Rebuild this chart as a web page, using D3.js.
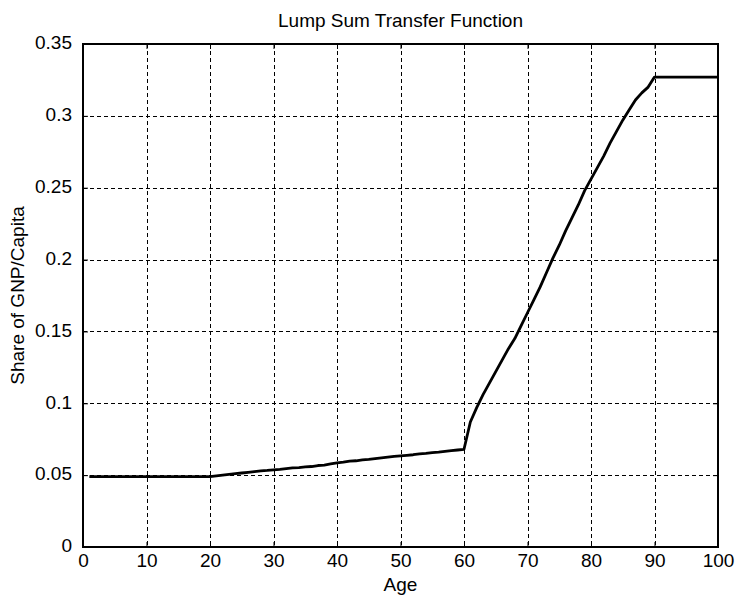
<!DOCTYPE html>
<html>
<head>
<meta charset="utf-8">
<script src="https://cdn.jsdelivr.net/npm/d3@7"></script>
<style>
  html, body { margin: 0; padding: 0; background: #fff; }
  svg { display: block; font-family: "Liberation Sans", Arial, Helvetica, sans-serif; }
</style>
</head>
<body>
<svg id="chart" width="736" height="597"></svg>
<script>
// Lump-sum transfer by age, as a share of GNP per capita
const ages = d3.range(1, 101);
const shareYoung = [ // ages 1-20
  0.049, 0.049, 0.049, 0.049, 0.049, 0.049, 0.049, 0.049, 0.049, 0.049,
  0.049, 0.049, 0.049, 0.049, 0.049, 0.049, 0.049, 0.049, 0.049, 0.049
];
const shareWorking = [ // ages 21-60
  0.0495, 0.050, 0.0505, 0.051, 0.0515, 0.052, 0.0525, 0.053, 0.0533, 0.0537,
  0.054, 0.0545, 0.055, 0.0553, 0.0557, 0.056, 0.0567, 0.057, 0.0578, 0.0586,
  0.059, 0.0597, 0.060, 0.0606, 0.061, 0.0615, 0.062, 0.0625, 0.063, 0.0634,
  0.0638, 0.0642, 0.0648, 0.0652, 0.0657, 0.066, 0.0665, 0.067, 0.0675, 0.068
];
const shareRetired = [ // ages 61-90
  0.087, 0.097, 0.106, 0.114, 0.122, 0.130, 0.138, 0.145, 0.154, 0.163,
  0.172, 0.181, 0.191, 0.201, 0.210, 0.220, 0.229, 0.238, 0.248, 0.256,
  0.264, 0.272, 0.281, 0.289, 0.297, 0.304, 0.311, 0.316, 0.320, 0.327
];
const shareOld = [ // ages 91-100
  0.327, 0.327, 0.327, 0.327, 0.327, 0.327, 0.327, 0.327, 0.327, 0.327
];
const shares = [...shareYoung, ...shareWorking, ...shareRetired, ...shareOld];

const xTicks = [0, 10, 20, 30, 40, 50, 60, 70, 80, 90, 100];
const yTicks = [0, 0.05, 0.1, 0.15, 0.2, 0.25, 0.3, 0.35];
const yTickLabels = ["0", "0.05", "0.1", "0.15", "0.2", "0.25", "0.3", "0.35"];

const titleText = "Lump Sum Transfer Function";
const xLabel = "Age";
const yLabel = "Share of GNP/Capita";

const FONT = 19;
const svg = d3.select("#chart");
const m = { left: 83, right: 718, top: 44, bottom: 547 };

const x = d3.scaleLinear().domain([0, 100]).range([m.left, m.right]);
const y = d3.scaleLinear().domain([0, 0.35]).range([m.bottom, m.top]);

// dashed grid
const grid = svg.append("g").attr("stroke", "#000").attr("stroke-width", 1)
  .attr("stroke-dasharray", "4,3").attr("shape-rendering", "crispEdges");
grid.selectAll("line.v").data(xTicks.slice(1, -1)).join("line")
  .attr("x1", d => Math.round(x(d)) + 0.5).attr("x2", d => Math.round(x(d)) + 0.5)
  .attr("y1", m.top).attr("y2", m.bottom);
grid.selectAll("line.h").data(yTicks.slice(1, -1)).join("line")
  .attr("x1", m.left).attr("x2", m.right)
  .attr("y1", d => Math.round(y(d)) + 0.5).attr("y2", d => Math.round(y(d)) + 0.5);

// axes with inward ticks
const xAxisB = d3.axisBottom(x).tickValues(xTicks).tickSize(-5).tickPadding(7).tickFormat(d3.format("d"));
const xAxisT = d3.axisTop(x).tickValues(xTicks).tickSize(-5).tickFormat("");
const yAxisL = d3.axisLeft(y).tickValues(yTicks).tickSize(-5).tickPadding(11)
  .tickFormat((d, i) => yTickLabels[i]);
const yAxisR = d3.axisRight(y).tickValues(yTicks).tickSize(-5).tickFormat("");

function styleAxis(g) {
  g.select(".domain").remove();
  g.selectAll(".tick line").attr("stroke", "#000").attr("stroke-width", 1);
  g.selectAll("text").attr("fill", "#000").attr("font-size", FONT)
    .attr("font-family", "'Liberation Sans', Arial, sans-serif");
}
svg.append("g").attr("transform", `translate(0,${m.bottom})`).call(xAxisB).call(styleAxis);
svg.append("g").attr("transform", `translate(0,${m.top})`).call(xAxisT).call(styleAxis);
svg.append("g").attr("transform", `translate(${m.left},0)`).call(yAxisL).call(styleAxis)
  .selectAll("text").attr("dy", "0.25em");
svg.append("g").attr("transform", `translate(${m.right},0)`).call(yAxisR).call(styleAxis);

// frame
svg.append("rect").attr("x", m.left).attr("y", m.top)
  .attr("width", m.right - m.left).attr("height", m.bottom - m.top)
  .attr("fill", "none").attr("stroke", "#000").attr("stroke-width", 2);

// transfer curve
const line = d3.line().x((d, i) => x(ages[i])).y(d => y(d));
svg.append("path").datum(shares).attr("d", line)
  .attr("fill", "none").attr("stroke", "#000").attr("stroke-width", 2.8)
  .attr("stroke-linejoin", "round");

// title and axis labels
svg.append("text").attr("x", (m.left + m.right) / 2).attr("y", 27)
  .attr("text-anchor", "middle").attr("font-size", FONT).text(titleText);
svg.append("text").attr("x", (m.left + m.right) / 2).attr("y", 591)
  .attr("text-anchor", "middle").attr("font-size", FONT).text(xLabel);
svg.append("text").attr("transform", `translate(24,${(m.top + m.bottom) / 2}) rotate(-90)`)
  .attr("text-anchor", "middle").attr("font-size", FONT).text(yLabel);
</script>
</body>
</html>
